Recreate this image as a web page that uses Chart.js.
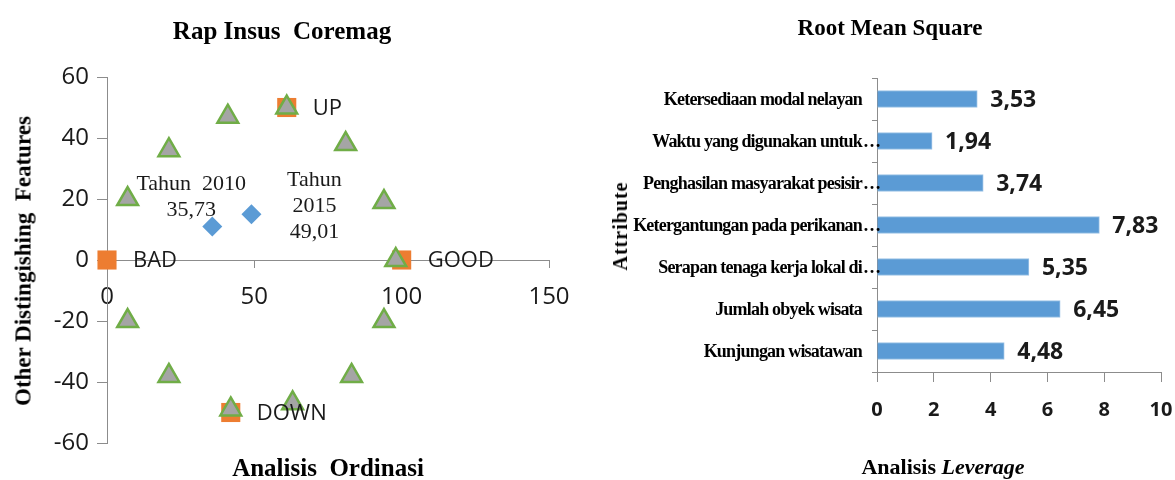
<!DOCTYPE html>
<html>
<head>
<meta charset="utf-8">
<script src="https://cdn.jsdelivr.net/npm/chart.js@4/dist/chart.umd.min.js"></script>
<style>
  html, body { margin: 0; padding: 0; background: #fff; }
  #wrap { position: relative; width: 1175px; height: 480px; overflow: hidden; }
  canvas { position: absolute; top: 0; }
  .t { position: absolute; font-family: 'Liberation Serif', 'Times New Roman', serif; font-weight: bold;
       color: #000; white-space: pre; transform: translate(-50%, -50%); line-height: 1; }
  .rot { transform: translate(-50%, -50%) rotate(-90deg); }
</style>
</head>
<body>
<div id="wrap">
  <canvas id="ord" width="590" height="480" style="left:0;width:590px;height:480px"></canvas>
  <canvas id="lev" width="585" height="480" style="left:590px;width:585px;height:480px"></canvas>

  <div class="t" style="left:282px;top:30px;font-size:25px">Rap Insus  Coremag</div>
  <div class="t rot" style="left:23px;top:261px;font-size:23px">Other Distingishing  Features</div>
  <div class="t" style="left:328px;top:467px;font-size:25px">Analisis  Ordinasi</div>

  <div class="t" style="left:890px;top:27px;font-size:23px">Root Mean Square</div>
  <div class="t rot" style="left:620px;top:226px;font-size:20px;letter-spacing:1px">Attribute</div>
  <div class="t" style="left:943px;top:467px;font-size:22px">Analisis <i>Leverage</i></div>
</div>

<script>
/* ---------- Ordinasi (kiri) ---------- */
const refNames = ['BAD', 'GOOD', 'UP', 'DOWN'];
const refX     = [0, 100, 61, 42];
const refY     = [0, 0, 50, -50];

const anchorX = [7, 21, 41, 61, 81, 94, 98, 94, 83, 63, 42, 21, 7];
const anchorY = [20, 36, 47, 50, 38, 19, 0, -20, -38, -47, -49, -38, -20];

const yearText = [['Tahun  2010', '35,73'], ['Tahun', '2015', '49,01']];
const yearX    = [35.73, 49.01];
const yearY    = [11, 15];

/* ---------- Leverage (kanan) ---------- */
const attrNames = [
  'Ketersediaan modal nelayan',
  'Waktu yang digunakan untuk…',
  'Penghasilan masyarakat pesisir…',
  'Ketergantungan pada perikanan…',
  'Serapan tenaga kerja lokal di…',
  'Jumlah obyek wisata',
  'Kunjungan wisatawan'
];
const rmsValues = [3.53, 1.94, 3.74, 7.83, 5.35, 6.45, 4.48];

const AXIS = '#8c8c8c';
const INK  = '#1a1a1a';
const pts = (xs, ys) => xs.map((x, i) => ({x, y: ys[i]}));

// posisi label tahun relatif ke titik
const yearOffset = [{dx: -21, dy: -42}, {dx: 63, dy: -34}];

const ordLabels = {
  id: 'ordLabels',
  afterDatasetsDraw(chart) {
    const ctx = chart.ctx;
    ctx.save();
    ctx.fillStyle = INK;
    ctx.textBaseline = 'middle';

    ctx.font = '22px "Open Sans"';
    ctx.textAlign = 'left';
    chart.getDatasetMeta(2).data.forEach((p, i) => ctx.fillText(refNames[i], p.x + 26, p.y + 1));

    ctx.font = '22px "Liberation Serif"';
    ctx.textAlign = 'center';
    chart.getDatasetMeta(0).data.forEach((p, i) => {
      const o = yearOffset[i];
      yearText[i].forEach((s, j) => ctx.fillText(s, p.x + o.dx, p.y + o.dy + j * 26));
    });
    ctx.restore();
  }
};

new Chart(document.getElementById('ord'), {
  type: 'scatter',
  data: {
    datasets: [
      {data: pts(yearX, yearY), pointStyle: 'rectRot', pointRadius: 10,
       backgroundColor: '#5B9BD5', borderColor: '#5B9BD5', borderWidth: 0, clip: false},
      {data: pts(anchorX, anchorY), pointStyle: 'triangle', pointRadius: 12,
       backgroundColor: '#A5A5A5', borderColor: '#70AD47', borderWidth: 2.5, clip: false},
      {data: pts(refX, refY), pointStyle: 'rect', pointRadius: 13.5,
       backgroundColor: '#ED7D31', borderColor: '#ED7D31', borderWidth: 0, clip: false}
    ]
  },
  options: {
    responsive: false, animation: false,
    layout: {padding: {left: 47, right: 41, top: 77, bottom: 37}},
    plugins: {legend: {display: false}, tooltip: {enabled: false}},
    scales: {
      x: {
        type: 'linear', position: {y: 0}, min: 0, max: 150,
        ticks: {stepSize: 50, padding: 16, color: INK, font: {family: 'Open Sans', size: 24}},
        grid: {drawOnChartArea: false, tickLength: 7, color: AXIS},
        border: {color: AXIS}
      },
      y: {
        position: 'left', min: -60, max: 60,
        afterFit: s => { s.width = 60; },
        ticks: {stepSize: 20, padding: 8, color: INK, font: {family: 'Open Sans', size: 24}},
        grid: {drawOnChartArea: false, tickLength: 10, color: AXIS},
        border: {color: AXIS}
      }
    }
  },
  plugins: [ordLabels]
});

/* ---------- bar chart ---------- */
// label kategori: teks rata kanan, "…" menggantung lewat sumbu seperti di Excel
const catLabels = {
  id: 'catLabels',
  afterDraw(chart) {
    const ctx = chart.ctx, ys = chart.scales.y;
    const xr = chart.chartArea.left - 15;
    ctx.save();
    ctx.font = 'bold 18px "Liberation Serif"';
    ctx.fillStyle = '#000';
    ctx.textBaseline = 'middle';
    attrNames.forEach((name, i) => {
      const y = ys.getPixelForValue(i) + 1;
      const cut = name.endsWith('…');
      ctx.letterSpacing = '-0.8px';
      ctx.textAlign = 'right';
      ctx.fillText(cut ? name.slice(0, -1) : name, xr, y);
      if (cut) {
        ctx.letterSpacing = '0px';
        ctx.textAlign = 'left';
        ctx.fillText('…', xr + 1, y);
      }
    });
    ctx.restore();
  }
};

const valueLabels = {
  id: 'valueLabels',
  afterDatasetsDraw(chart) {
    const ctx = chart.ctx;
    ctx.save();
    ctx.font = 'bold 23px "Open Sans"';
    ctx.fillStyle = INK;
    ctx.textAlign = 'left';
    ctx.textBaseline = 'middle';
    chart.getDatasetMeta(0).data.forEach((b, i) =>
      ctx.fillText(rmsValues[i].toFixed(2).replace('.', ','), b.x + 13, b.y + 1));
    ctx.restore();
  }
};

new Chart(document.getElementById('lev'), {
  type: 'bar',
  data: {
    labels: attrNames,
    datasets: [{data: rmsValues, backgroundColor: '#5B9BD5', borderColor: '#9DC3E6',
                borderWidth: 1, barThickness: 17}]
  },
  options: {
    indexAxis: 'y', responsive: false, animation: false,
    layout: {padding: {left: 0, right: 14, top: 78, bottom: 48}},
    plugins: {legend: {display: false}, tooltip: {enabled: false}},
    scales: {
      x: {
        min: 0, max: 10,
        afterFit: s => { s.height = 60; s.paddingLeft = 0; s.paddingRight = 10; },
        ticks: {stepSize: 2, padding: 16, color: INK, font: {family: 'Open Sans', size: 20, weight: 'bold'}},
        grid: {drawOnChartArea: false, tickLength: 10, color: AXIS},
        border: {color: AXIS}
      },
      y: {
        afterFit: s => { s.width = 287; },
        ticks: {display: false},
        grid: {drawOnChartArea: false, tickLength: 5, color: AXIS},
        border: {color: AXIS}
      }
    }
  },
  plugins: [catLabels, valueLabels]
});
</script>
</body>
</html>
